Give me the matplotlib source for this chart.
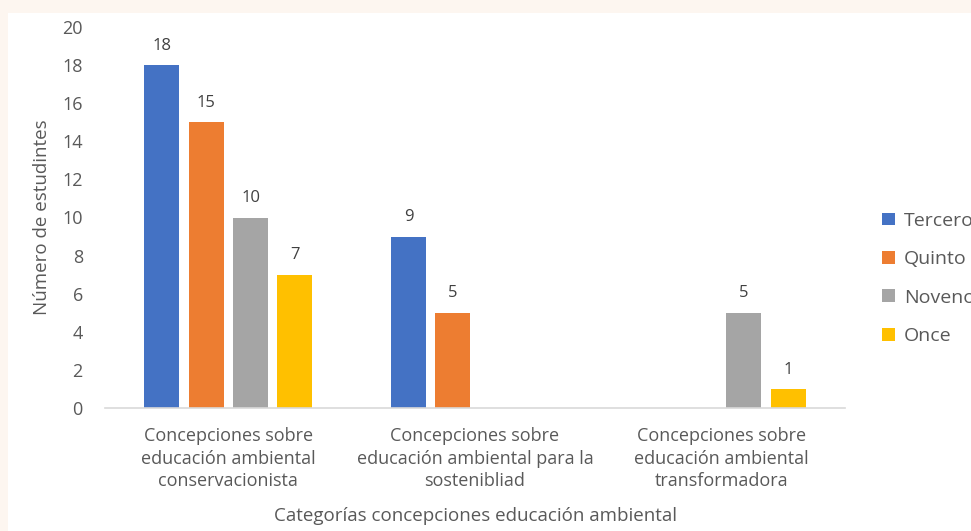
import matplotlib.pyplot as plt
import matplotlib.patches as mpatches
import numpy as np

plt.rcParams['font.family'] = ['Open Sans', 'DejaVu Sans']

categorias = ['Concepciones sobre\neducación ambiental\nconservacionista',
              'Concepciones sobre\neducación ambiental para la\nsostenibliad',
              'Concepciones sobre\neducación ambiental\ntransformadora']
grados = ['Tercero', 'Quinto', 'Noveno', 'Once']
tercero = [18, 9, 0]
quinto = [15, 5, 0]
noveno = [10, 0, 5]
once = [7, 0, 1]
colores = ['#4472C4', '#ED7D31', '#A5A5A5', '#FFC000']

series = [tercero, quinto, noveno, once]
gris = '#595959'

fig = plt.figure(figsize=(9.71, 5.31), dpi=100, facecolor='#FDF6F0')
# marco blanco del grafico
fig.patches.append(mpatches.Rectangle((8 / 971, 0), 1, 1 - 13 / 531, transform=fig.transFigure,
                                      facecolor='white', edgecolor='none', zorder=-10))

ax = fig.add_axes([105 / 971, 1 - 408 / 531, 740 / 971, 381 / 531])
ax.set_facecolor('none')

x = np.arange(len(categorias))
ancho = 0.142
paso = 0.18
for i, (valores, nombre, color) in enumerate(zip(series, grados, colores)):
    pos = x + (i - 1.5) * paso
    ax.bar(pos, valores, width=ancho, color=color, label=nombre, zorder=2)
    for p, v in zip(pos, valores):
        if v > 0:
            ax.text(p, v + 0.6, str(v), ha='center', va='bottom', fontsize=12, color='#404040')

ax.set_xlim(-0.5, 2.5)
ax.set_ylim(0, 20)
ax.set_yticks(range(0, 21, 2))
ax.set_xticks(x)
ax.set_xticklabels(categorias, fontsize=13, color=gris, linespacing=1.3)
ax.tick_params(axis='y', labelsize=13, labelcolor=gris, length=0, pad=16)
ax.tick_params(axis='x', length=0, pad=14)

for lado in ['top', 'right', 'left']:
    ax.spines[lado].set_visible(False)
ax.spines['bottom'].set_color('#D9D9D9')
ax.spines['bottom'].set_linewidth(1.2)

ax.set_ylabel('Número de estudintes', fontsize=13.5, color=gris, labelpad=8)
ax.set_xlabel('Categorías concepciones educación ambiental', fontsize=13.5, color=gris, labelpad=12)

ax.legend(loc='center left', bbox_to_anchor=(1.04, 0.34), frameon=False, fontsize=14,
          labelcolor=gris, handlelength=0.65, handleheight=0.65, handletextpad=0.45,
          labelspacing=1.05, borderaxespad=0)

fig.savefig('out.png', dpi=100, facecolor=fig.get_facecolor())
